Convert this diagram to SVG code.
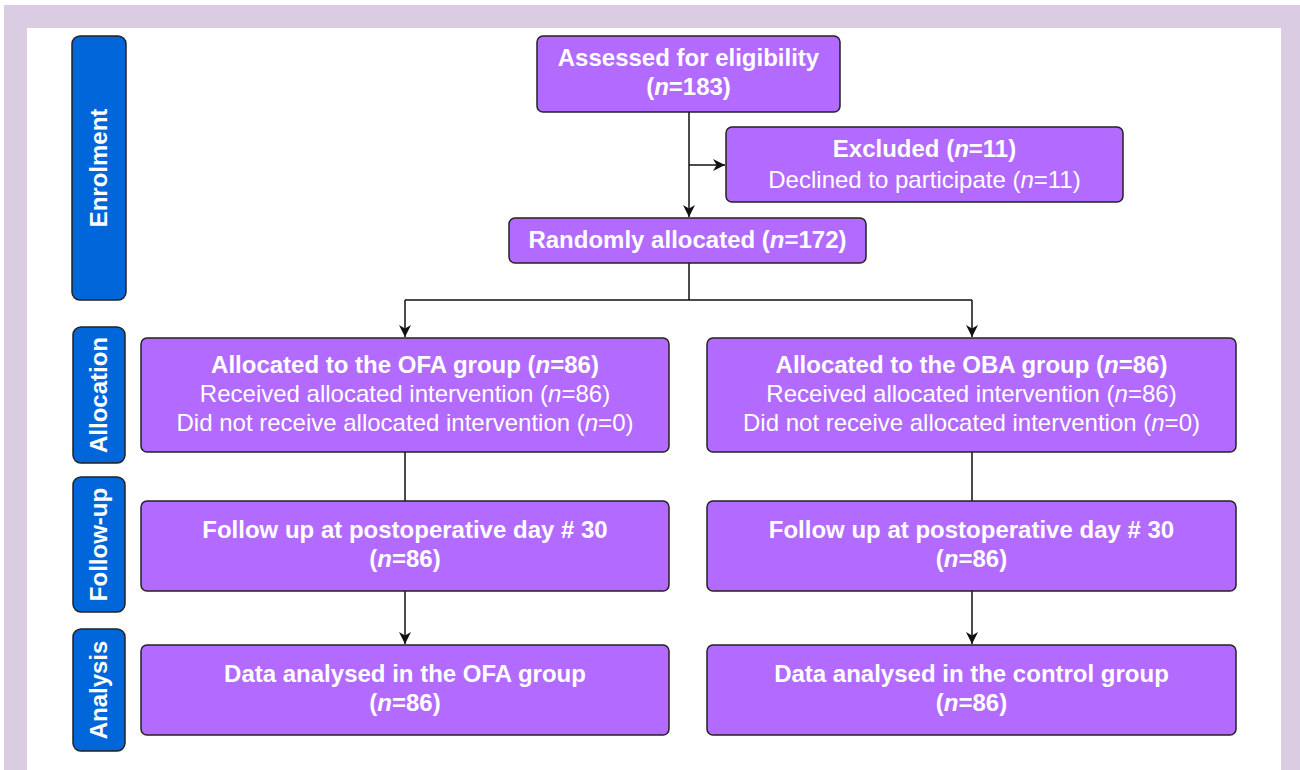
<svg xmlns="http://www.w3.org/2000/svg" width="1300" height="770" viewBox="0 0 1300 770">
<style>
.box{fill:#B36BFF;stroke:#222;stroke-width:1.5}
.side{fill:#0066DA;stroke:#222;stroke-width:1.5}
.t{font-family:"Liberation Sans",Arial,sans-serif;font-size:24px;fill:#fff;text-anchor:middle}
.b{font-weight:bold}
.st{font-family:"Liberation Sans",Arial,sans-serif;font-size:24px;font-weight:bold;fill:#fff;text-anchor:middle}
.c{fill:none;stroke:#111;stroke-width:1.5}
</style>
<defs>
<marker id="ah" viewBox="0 0 10 10" refX="10" refY="5" markerWidth="12" markerHeight="12" markerUnits="userSpaceOnUse" orient="auto">
<path d="M0,0 L10,5 L0,10 L3,5 Z" fill="#111"/>
</marker>
</defs>
<rect x="0" y="0" width="1300" height="770" fill="#fff"/>
<rect x="4" y="5" width="1296" height="765" fill="#D9CCE3"/>
<rect x="27" y="28" width="1254" height="742" fill="#fff"/>

<g id="label-enrolment"><rect class="side" x="72" y="36" width="54" height="264" rx="8"/><text class="st" transform="translate(107,168) rotate(-90)">Enrolment</text></g>
<g id="label-allocation"><rect class="side" x="73" y="327" width="52" height="136" rx="8"/><text class="st" transform="translate(107,395) rotate(-90)">Allocation</text></g>
<g id="label-followup"><rect class="side" x="73" y="477" width="52" height="135" rx="8"/><text class="st" transform="translate(107,544.5) rotate(-90)">Follow-up</text></g>
<g id="label-analysis"><rect class="side" x="73" y="629" width="52" height="122" rx="8"/><text class="st" transform="translate(107,690) rotate(-90)">Analysis</text></g>

<g id="connectors">
<path class="c" d="M689,112 V217" marker-end="url(#ah)"/>
<path class="c" d="M689,165 H725" marker-end="url(#ah)"/>
<path class="c" d="M689,263 V300 M405,300 H972"/>
<path class="c" d="M405,300 V337" marker-end="url(#ah)"/>
<path class="c" d="M972,300 V337" marker-end="url(#ah)"/>
<path class="c" d="M405,452 V501 M972,452 V501"/>
<path class="c" d="M405,591 V644" marker-end="url(#ah)"/>
<path class="c" d="M972,591 V644" marker-end="url(#ah)"/>
</g>

<g id="assessed"><rect class="box" x="537" y="36" width="303" height="76" rx="6"/>
<text class="t b" x="688.5" y="66">Assessed for eligibility</text>
<text class="t b" x="688.5" y="95">(<tspan font-style="italic">n</tspan>=183)</text></g>

<g id="excluded"><rect class="box" x="726" y="127" width="397" height="75" rx="6"/>
<text class="t b" x="924.5" y="157">Excluded (<tspan font-style="italic">n</tspan>=11)</text>
<text class="t" x="924.5" y="188">Declined to participate (<tspan font-style="italic">n</tspan>=11)</text></g>

<g id="randomised"><rect class="box" x="509" y="218" width="357" height="45" rx="6"/>
<text class="t b" x="687.5" y="248">Randomly allocated (<tspan font-style="italic">n</tspan>=172)</text></g>

<g id="alloc-ofa"><rect class="box" x="141" y="338" width="528" height="114" rx="6"/>
<text class="t b" x="405" y="373">Allocated to the OFA group (<tspan font-style="italic">n</tspan>=86)</text>
<text class="t" x="405" y="402">Received allocated intervention (<tspan font-style="italic">n</tspan>=86)</text>
<text class="t" x="405" y="431">Did not receive allocated intervention (<tspan font-style="italic">n</tspan>=0)</text></g>

<g id="alloc-oba"><rect class="box" x="707" y="338" width="529" height="114" rx="6"/>
<text class="t b" x="971.5" y="373">Allocated to the OBA group (<tspan font-style="italic">n</tspan>=86)</text>
<text class="t" x="971.5" y="402">Received allocated intervention (<tspan font-style="italic">n</tspan>=86)</text>
<text class="t" x="971.5" y="431">Did not receive allocated intervention (<tspan font-style="italic">n</tspan>=0)</text></g>

<g id="follow-ofa"><rect class="box" x="141" y="501" width="528" height="90" rx="6"/>
<text class="t b" x="405" y="538">Follow up at postoperative day # 30</text>
<text class="t b" x="405" y="567">(<tspan font-style="italic">n</tspan>=86)</text></g>

<g id="follow-oba"><rect class="box" x="707" y="501" width="529" height="90" rx="6"/>
<text class="t b" x="971.5" y="538">Follow up at postoperative day # 30</text>
<text class="t b" x="971.5" y="567">(<tspan font-style="italic">n</tspan>=86)</text></g>

<g id="analysis-ofa"><rect class="box" x="141" y="645" width="528" height="90" rx="6"/>
<text class="t b" x="405" y="682">Data analysed in the OFA group</text>
<text class="t b" x="405" y="711">(<tspan font-style="italic">n</tspan>=86)</text></g>

<g id="analysis-oba"><rect class="box" x="707" y="645" width="529" height="90" rx="6"/>
<text class="t b" x="971.5" y="682">Data analysed in the control group</text>
<text class="t b" x="971.5" y="711">(<tspan font-style="italic">n</tspan>=86)</text></g>
</svg>
